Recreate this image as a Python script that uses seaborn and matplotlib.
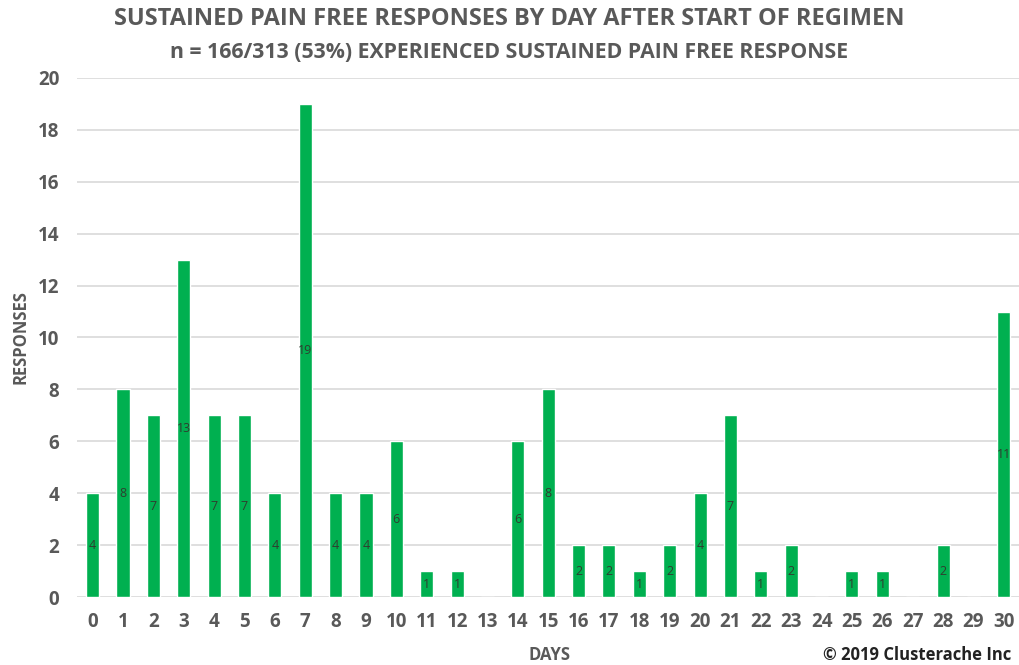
import matplotlib
matplotlib.use("Agg")
import matplotlib.pyplot as plt
import seaborn as sns
import pandas as pd

# Responses per day after regimen start
days = list(range(31))
responses = [4, 8, 7, 13, 7, 7, 4, 19, 4, 4, 6, 1, 1, 0, 6, 8, 2, 2, 1, 2,
             4, 7, 1, 2, 0, 1, 1, 0, 2, 0, 11]
y_ticks = list(range(0, 21, 2))

title = "SUSTAINED PAIN FREE RESPONSES BY DAY AFTER START OF REGIMEN"
subtitle = "n = 166/313 (53%) EXPERIENCED SUSTAINED PAIN FREE RESPONSE"

df = pd.DataFrame({"day": [str(d) for d in days], "responses": responses})

sns.set_theme(style="white")
plt.rcParams["font.family"] = ["Open Sans", "DejaVu Sans"]

GREEN = "#00B050"
TEXT = "#595959"
GRID = "#D9D9D9"

fig = plt.figure(figsize=(10.19, 6.65), dpi=100)
ax = fig.add_axes([0.076, 0.102, 0.924, 0.781])

sns.barplot(data=df, x="day", y="responses", color=GREEN, width=0.43,
            saturation=1, ax=ax, zorder=3)

ax.set_ylim(0, 20)
ax.set_xlim(-0.5, 30.5)
ax.set_yticks(y_ticks)
for t in y_ticks:
    ax.axhline(t, color=GRID, lw=1.2, zorder=1)

for s in ax.spines.values():
    s.set_visible(False)
ax.tick_params(axis="both", length=0, labelsize=13.5, labelcolor=TEXT)
ax.tick_params(axis="x", pad=11)
ax.tick_params(axis="y", pad=13)
for lbl in ax.get_xticklabels() + ax.get_yticklabels():
    lbl.set_fontweight("bold")

# value labels centred inside each bar
for i, v in enumerate(responses):
    if v > 0:
        ax.text(i, v / 2, str(v), ha="center", va="center", fontsize=9,
                color="#2f3d2f", zorder=4)

ax.set_xlabel("")
ax.set_ylabel("RESPONSES", fontsize=12, fontweight="bold", color=TEXT, labelpad=6)

fig.text(0.539, 0.015, "DAYS", ha="center", va="center", fontsize=12,
         fontweight="bold", color=TEXT)
fig.text(0.5, 0.972, title, ha="center", va="center", fontsize=17,
         fontweight="bold", color=TEXT)
fig.text(0.5, 0.921, subtitle, ha="center", va="center", fontsize=15.3,
         fontweight="bold", color=TEXT)
fig.text(0.992, 0.015, "© 2019 Clusterache Inc", ha="right", va="center",
         fontsize=12, fontweight="bold", color="#222222")

fig.savefig("out.png", dpi=100)
